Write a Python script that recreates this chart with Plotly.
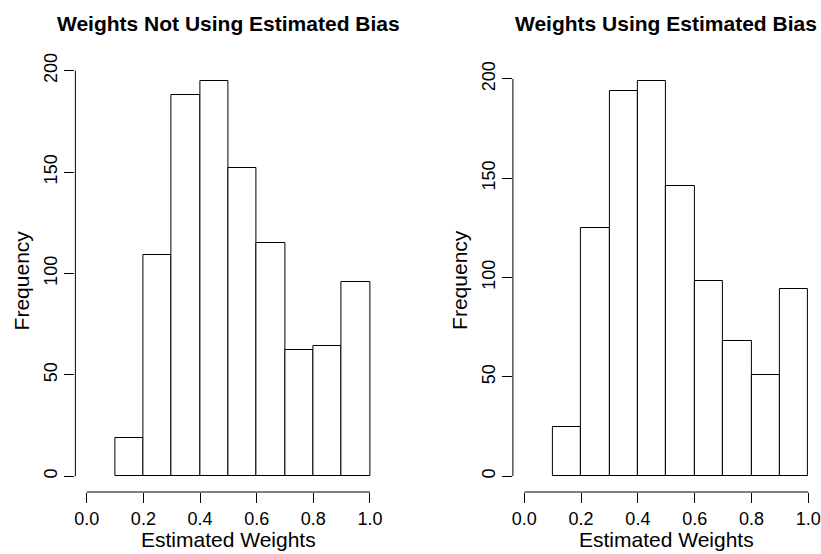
import plotly.graph_objects as go

# Data
bin_lefts = [0.1, 0.2, 0.3, 0.4, 0.5, 0.6, 0.7, 0.8, 0.9]
bin_width = 0.1
counts_not_bias = [19, 109, 188, 195, 152, 115, 62, 64, 96]
counts_bias = [25, 125, 194, 199, 146, 98, 68, 51, 94]
titles = ["Weights Not Using Estimated Bias", "Weights Using Estimated Bias"]
x_ticks = [0.0, 0.2, 0.4, 0.6, 0.8, 1.0]
x_tick_labels = ["0.0", "0.2", "0.4", "0.6", "0.8", "1.0"]
y_ticks = [0, 50, 100, 150, 200]
x_label = "Estimated Weights"
y_label = "Frequency"

W, H = 821, 554
FONT = "Liberation Sans, Arial, Helvetica, sans-serif"

centers = [l + bin_width / 2 for l in bin_lefts]

fig = go.Figure()
fig.add_trace(go.Bar(x=centers, y=counts_not_bias, width=bin_width,
                     marker=dict(color="white", line=dict(color="black", width=1)),
                     xaxis="x", yaxis="y", showlegend=False, hoverinfo="x+y"))
fig.add_trace(go.Bar(x=centers, y=counts_bias, width=bin_width,
                     marker=dict(color="white", line=dict(color="black", width=1)),
                     xaxis="x2", yaxis="y2", showlegend=False, hoverinfo="x+y"))

ydom = [(H - 492) / H, (H - 65) / H]
xdom1 = [75.4 / W, 381.3 / W]
xdom2 = [512.9 / W, 819.7 / W]

def yr(counts):
    m = max(counts)
    return [-0.04 * m, 1.04 * m]

axis_common = dict(showgrid=False, zeroline=False, showline=False,
                   ticks="outside", ticklen=10, tickwidth=1, tickcolor="black",
                   automargin=False,
                   tickfont=dict(family=FONT, size=18, color="black"))

fig.update_layout(
    width=W, height=H, autosize=False,
    margin=dict(l=0, r=0, t=0, b=0, pad=0),
    paper_bgcolor="white", plot_bgcolor="white",
    bargap=0, showlegend=False,
    xaxis=dict(domain=xdom1, range=[-0.04, 1.04], tickvals=x_ticks, ticktext=x_tick_labels,
               anchor="y", ticklabelstandoff=0, **axis_common),
    yaxis=dict(domain=ydom, range=yr(counts_not_bias), tickvals=y_ticks, tickangle=-90,
               anchor="x", ticklabelstandoff=0, **axis_common),
    xaxis2=dict(domain=xdom2, range=[-0.04, 1.04], tickvals=x_ticks, ticktext=x_tick_labels,
                anchor="y2", ticklabelstandoff=0, **axis_common),
    yaxis2=dict(domain=ydom, range=yr(counts_bias), tickvals=y_ticks, tickangle=-90,
                anchor="x2", ticklabelstandoff=0, **axis_common),
)

shapes = []
annotations = []
for i, (xa, ya, dom) in enumerate([("x", "y", xdom1), ("x2", "y2", xdom2)]):
    # R-style axis lines spanning only the tick range
    shapes.append(dict(type="line", xref=f"{xa} domain", x0=0, x1=0, yref=ya,
                       y0=y_ticks[0], y1=y_ticks[-1], line=dict(color="black", width=1)))
    shapes.append(dict(type="line", xref=xa, x0=x_ticks[0], x1=x_ticks[-1],
                       yref=f"{ya} domain", y0=0, y1=0, line=dict(color="black", width=1)))
    cx = (dom[0] + dom[1]) / 2
    annotations.append(dict(text=f"<b>{titles[i]}</b>", xref="paper", yref="paper",
                            x=cx, y=1 - 23 / H, xanchor="center", yanchor="middle",
                            showarrow=False, font=dict(family=FONT, size=21, color="black")))
    annotations.append(dict(text=x_label, xref="paper", yref="paper",
                            x=cx, y=1 - 539 / H, xanchor="center", yanchor="middle",
                            showarrow=False, font=dict(family=FONT, size=21, color="black")))
    annotations.append(dict(text=y_label, xref="paper", yref="paper",
                            x=(dom[0] * W - 54) / W, y=(ydom[0] + ydom[1]) / 2 - 1.5 / H,
                            xanchor="center", yanchor="middle", textangle=-90,
                            showarrow=False, font=dict(family=FONT, size=21, color="black")))

fig.update_layout(shapes=shapes, annotations=annotations)
fig.write_html("out.html", config={"displayModeBar": False},
               post_script="document.body.style.margin='0';document.body.style.overflow='hidden';")
